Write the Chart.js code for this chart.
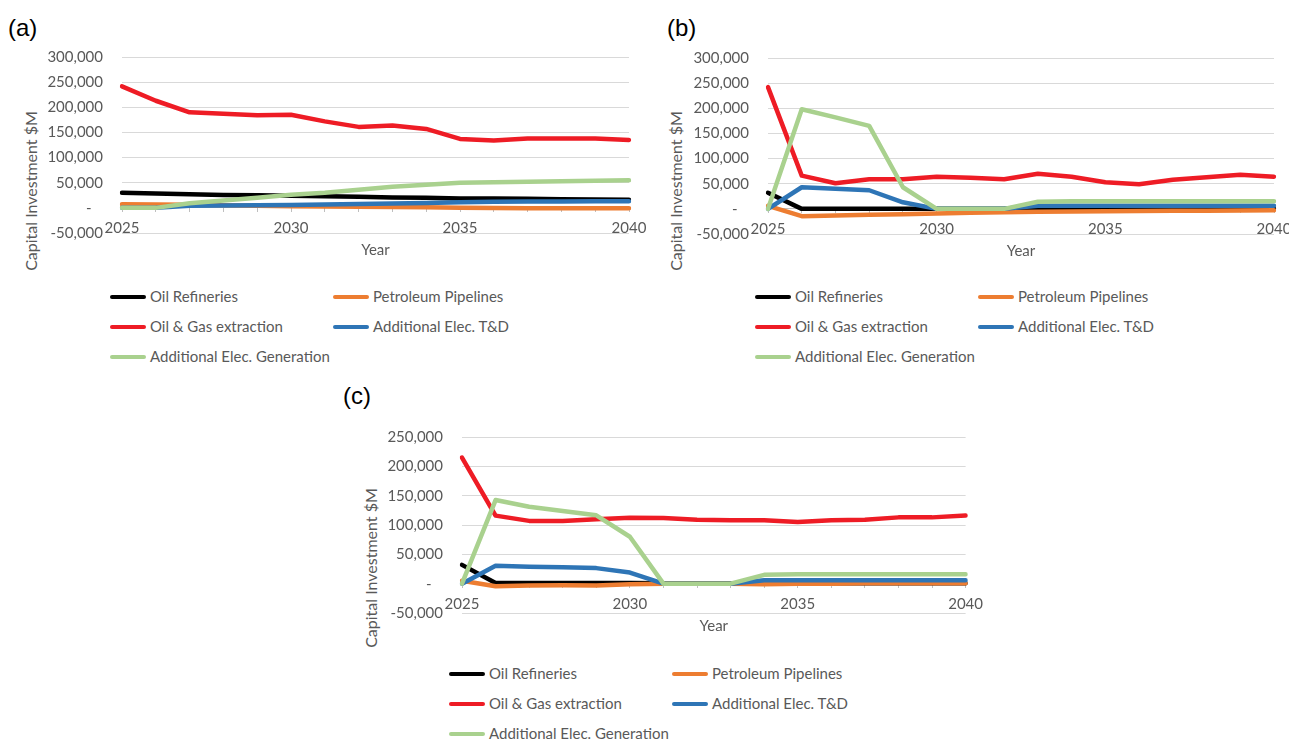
<!DOCTYPE html>
<html>
<head>
<meta charset="utf-8">
<script src="https://cdn.jsdelivr.net/npm/chart.js@4.4.1/dist/chart.umd.min.js"></script>
<style>
    body { margin: 0; width: 1289px; height: 740px; overflow: hidden; background: #ffffff; position: relative; font-family: Lato, sans-serif; }
    canvas { position: absolute; }
    .panel-label { position: absolute; font-family: "Liberation Sans", Arial, sans-serif; font-size: 24px; line-height: 24px; color: #000; }
    .ytitle { position: absolute; width: 240px; text-align: center; font-size: 16px; line-height: 16px; color: #595959; transform: rotate(-90deg); transform-origin: center center; }
    .legend { position: absolute; font-size: 15px; color: #595959; }
    .legend .item { position: absolute; white-space: nowrap; height: 16px; line-height: 16px; }
    .legend .swatch { display: inline-block; width: 36px; height: 4px; border-radius: 2px; vertical-align: middle; margin-right: 4px; position: relative; top: -1px; }
</style>
</head>
<body>
<div class="panel-label" style="left:8px; top:16px;">(a)</div>
<div class="panel-label" style="left:667px; top:16px;">(b)</div>
<div class="panel-label" style="left:343px; top:384px;">(c)</div>

<div class="ytitle" style="left:-89px; top:183px;">Capital Investment $M</div>
<div class="ytitle" style="left:556px; top:183px;">Capital Investment $M</div>
<div class="ytitle" style="left:251px; top:560px;">Capital Investment $M</div>

<canvas id="chartA" width="660" height="232" style="left:0px; top:29px;"></canvas>
<canvas id="chartB" width="660" height="232" style="left:640px; top:30px;"></canvas>
<canvas id="chartC" width="660" height="232" style="left:330px; top:409px;"></canvas>

<div class="legend" id="legendA" style="left:110px; top:288px;"></div>
<div class="legend" id="legendB" style="left:755px; top:288px;"></div>
<div class="legend" id="legendC" style="left:449px; top:665px;"></div>

<script>
// years on the x axis
const years = [2025, 2026, 2027, 2028, 2029, 2030, 2031, 2032, 2033, 2034, 2035, 2036, 2037, 2038, 2039, 2040];

const seriesNames = ["Oil Refineries", "Petroleum Pipelines", "Oil & Gas extraction", "Additional Elec. T&D", "Additional Elec. Generation"];
const seriesColors = ["#000000", "#ed7d31", "#ee1c25", "#2e75b6", "#a9d18e"];

// (a)
const refineriesA = [30000, 28500, 27000, 25500, 25000, 24000, 23000, 22000, 20500, 20000, 18500, 18500, 18000, 17000, 16500, 16000];
const pipelinesA = [7000, 6500, 6000, 5000, 4000, 3000, 2500, 2000, 1500, 1000, 0, -500, -1000, -1000, -1000, -1000];
const oilGasA = [241500, 213000, 190000, 187000, 184000, 185000, 172000, 161000, 164000, 157000, 137000, 134000, 138000, 138000, 138000, 135000];
const elecTDA = [0, 0, 4000, 4500, 5000, 5500, 6500, 7500, 8500, 9500, 11000, 12000, 12500, 12500, 13000, 13000];
const elecGenA = [0, 0, 9000, 14500, 20000, 26000, 30000, 36000, 42000, 46000, 50000, 51000, 52000, 53000, 54000, 55000];

// (b)
const refineriesB = [32000, 0, 0, 0, 0, 0, 0, 0, 500, 500, 500, 500, 500, 500, 500, 500];
const pipelinesB = [6000, -14500, -13000, -11500, -10500, -9000, -7500, -6500, -6000, -5500, -5000, -4500, -4000, -4000, -3500, -3000];
const oilGasB = [242000, 66000, 51000, 59000, 59000, 64000, 62000, 59000, 70000, 64000, 53000, 49000, 58000, 63000, 68000, 64000];
const elecTDB = [0, 43000, 40000, 37000, 13000, 0, 0, 0, 6000, 6000, 6000, 6000, 6000, 6000, 6000, 6000];
const elecGenB = [0, 198000, 182000, 165000, 43000, 0, 0, 0, 14000, 15000, 15000, 15000, 15000, 15000, 15000, 15000];

// (c)
const refineriesC = [32000, 1000, 1000, 1000, 1000, 1000, 500, 500, 500, 500, 500, 500, 500, 500, 500, 500];
const pipelinesC = [5000, -4500, -3000, -2500, -3000, -1000, 0, 0, 0, -1000, 0, 0, 500, 500, 500, 500];
const oilGasC = [215000, 116000, 107000, 107000, 110000, 112500, 112000, 109000, 108000, 108000, 105000, 108000, 109000, 113000, 113000, 116000];
const elecTDC = [0, 30500, 29000, 28000, 26500, 19000, 0, 0, 0, 6000, 6000, 6000, 6000, 6000, 6000, 6000];
const elecGenC = [0, 142500, 131000, 124000, 116500, 80000, 0, 0, 0, 15000, 16000, 16000, 16000, 16000, 16000, 16000];

Chart.defaults.font.family = "Lato, 'Open Sans', sans-serif";
Chart.defaults.color = "#595959";

function makeChart(id, seriesData, yMax, yAxisWidth, pad) {
    const datasets = seriesData.map(function (data, i) {
        return {
            label: seriesNames[i],
            data: data,
            borderColor: seriesColors[i],
            backgroundColor: seriesColors[i],
            borderWidth: 4.5,
            pointRadius: 0,
            tension: 0,
            fill: false,
            borderJoinStyle: "round",
            borderCapStyle: "round",
            // last series on top, like the original
            order: seriesData.length - i,
        };
    });

    return new Chart(document.getElementById(id).getContext("2d"), {
        type: "line",
        data: { labels: years, datasets: datasets },
        options: {
            responsive: false,
            animation: false,
            devicePixelRatio: 1,
            layout: { padding: pad },
            plugins: {
                legend: { display: false },
                tooltip: { enabled: false },
            },
            scales: {
                x: {
                    type: "category",
                    position: { y: 0 },
                    offset: false,
                    grid: { drawOnChartArea: false, drawTicks: true, tickLength: 4, color: "#bfbfbf" },
                    border: { display: true, color: "#bfbfbf", width: 1 },
                    ticks: {
                        autoSkip: false,
                        maxRotation: 0,
                        padding: 7,
                        font: { size: 15 },
                        callback: function (value, index) {
                            const y = years[index];
                            return y % 5 === 0 ? String(y) : "";
                        },
                    },
                    title: { display: true, text: "Year", font: { size: 15 }, padding: { top: -3, bottom: 0 } },
                },
                y: {
                    min: -50000,
                    max: yMax,
                    grid: { color: "#d9d9d9", drawTicks: false },
                    border: { display: false },
                    ticks: {
                        stepSize: 50000,
                        padding: 19,
                        font: { size: 15 },
                        callback: function (value) {
                            return value === 0 ? "-   " : value.toLocaleString("en-US");
                        },
                    },
                    afterFit: function (scale) {
                        scale.width = yAxisWidth;
                    },
                },
            },
        },
    });
}

function buildLegend(id) {
    const box = document.getElementById(id);
    const cols = [0, 223];
    seriesNames.forEach(function (name, i) {
        const item = document.createElement("div");
        item.className = "item";
        item.style.left = cols[i % 2] + "px";
        item.style.top = (Math.floor(i / 2) * 30) + "px";
        item.innerHTML = '<span class="swatch" style="background:' + seriesColors[i] + '"></span>';
        item.appendChild(document.createTextNode(name));
        box.appendChild(item);
    });
}

makeChart("chartA", [refineriesA, pipelinesA, oilGasA, elecTDA, elecGenA], 300000, 122, { left: 0, top: 5, right: 31, bottom: 0 });
makeChart("chartB", [refineriesB, pipelinesB, oilGasB, elecTDB, elecGenB], 300000, 128, { left: 0, top: 5, right: 26, bottom: 0 });
makeChart("chartC", [refineriesC, pipelinesC, oilGasC, elecTDC, elecGenC], 250000, 132, { left: 0, top: 5, right: 24, bottom: 0 });

buildLegend("legendA");
buildLegend("legendB");
buildLegend("legendC");
</script>
</body>
</html>
